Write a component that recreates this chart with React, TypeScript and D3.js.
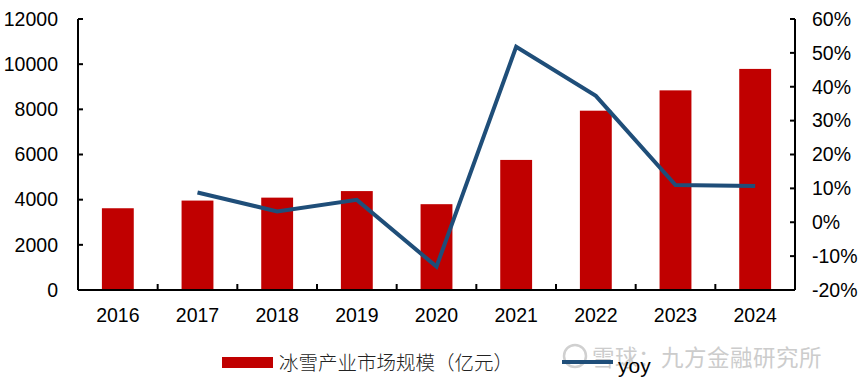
import React from "react";
import * as d3 from "d3";

const years = ["2016", "2017", "2018", "2019", "2020", "2021", "2022", "2023", "2024"];
const marketSize = [3620, 3960, 4090, 4380, 3800, 5760, 7940, 8840, 9790];
const yoy = [null, 8.8, 3.2, 6.6, -13.1, 51.8, 37.3, 11.0, 10.7];
const leftTicks = [0, 2000, 4000, 6000, 8000, 10000, 12000];
const rightTicks = [-20, -10, 0, 10, 20, 30, 40, 50, 60];
const barLabel = "冰雪产业市场规模（亿元）";
const lineLabel = "yoy";
const watermark = "雪球：九方金融研究所";

export default function App() {
  const W = 862, H = 382;
  const left = 78, right = 795, top = 19, bottom = 290;
  const x = d3.scaleBand<string>().domain(years).range([left, right]).paddingInner(0.6).paddingOuter(0.3);
  const xt = d3.scaleBand<string>().domain(years).range([left, right]);
  const yL = d3.scaleLinear().domain([0, 12000]).range([bottom, top]);
  const yR = d3.scaleLinear().domain([-20, 60]).range([bottom, top]);
  const pts = years.map((y, i) => ({ y, v: yoy[i] })).filter(d => d.v !== null) as { y: string; v: number }[];
  const line = d3.line<{ y: string; v: number }>()
    .x(d => (xt(d.y) as number) + xt.bandwidth() / 2)
    .y(d => yR(d.v));
  const font = "'Liberation Sans', Arial, sans-serif";
  return (
    <svg width={W} height={H} style={{ position: "absolute", left: 0, top: 0, background: "#fff" }}>
      {years.map((yr, i) => (
        <rect key={yr} x={x(yr)} y={yL(marketSize[i])} width={x.bandwidth()} height={bottom - yL(marketSize[i])} fill="#C00000" />
      ))}
      <path d={line(pts) || ""} fill="none" stroke="#1F4E79" strokeWidth={4} strokeLinejoin="miter" />
      {/* axes */}
      <line x1={left} x2={left} y1={top} y2={bottom} stroke="#000" strokeWidth={2} />
      <line x1={right} x2={right} y1={top} y2={bottom} stroke="#000" strokeWidth={2} />
      <line x1={left} x2={right} y1={bottom} y2={bottom} stroke="#000" strokeWidth={2} />
      {leftTicks.map(t => (
        <g key={"l" + t}>
          <line x1={left} x2={left + 5} y1={yL(t)} y2={yL(t)} stroke="#000" strokeWidth={2} />
          <text x={58} y={yL(t)} dy="0.35em" textAnchor="end" fontFamily={font} fontSize={19.5} fill="#000">{t}</text>
        </g>
      ))}
      {rightTicks.map(t => (
        <g key={"r" + t}>
          <line x1={right - 5} x2={right} y1={yR(t)} y2={yR(t)} stroke="#000" strokeWidth={2} />
          <text x={812} y={yR(t)} dy="0.35em" textAnchor="start" fontFamily={font} fontSize={19.5} fill="#000">{t + "%"}</text>
        </g>
      ))}
      {years.map((yr, i) => (
        <g key={"x" + yr}>
          {i > 0 && <line x1={xt(yr)} x2={xt(yr)} y1={bottom} y2={bottom - 6} stroke="#000" strokeWidth={2} />}
          <text x={(xt(yr) as number) + xt.bandwidth() / 2} y={322} textAnchor="middle" fontFamily={font} fontSize={19.5} fill="#000">{yr}</text>
        </g>
      ))}
      {/* legend */}
      <rect x={222} y={357} width={51} height={11} fill="#C00000" />
      <text x={279} y={370} fontFamily="'Noto Sans CJK SC', sans-serif" fontSize={19.5} fontWeight={300} fill="#222">{barLabel}</text>
      {/* watermark */}
      <circle cx={575} cy={356} r={11} fill="none" stroke="#d0d0d0" strokeWidth={2.5} />
      <text x={592} y={366} fontFamily="'Noto Sans CJK SC', sans-serif" fontSize={22.5} fill="#cccccc" letterSpacing={0.5}>{watermark}</text>
      <line x1={562} x2={613} y1={362} y2={362} stroke="#1F4E79" strokeWidth={4} />
      <text x={618} y={373} fontFamily={font} fontSize={21} fill="#000">{lineLabel}</text>
    </svg>
  );
}
